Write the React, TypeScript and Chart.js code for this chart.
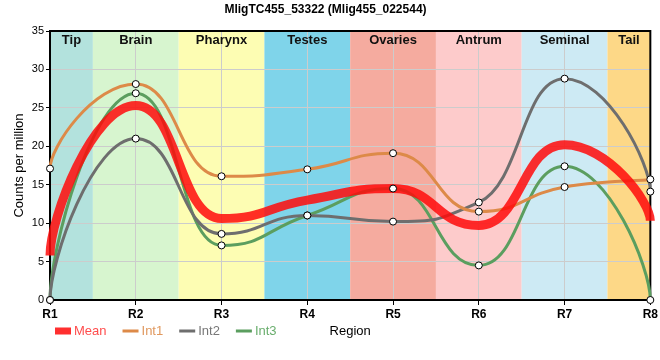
import { useEffect, useRef } from 'react';
import { Chart, registerables } from 'chart.js';

Chart.register(...registerables);

const categories = ['R1', 'R2', 'R3', 'R4', 'R5', 'R6', 'R7', 'R8'];
const regionNames = ['Tip', 'Brain', 'Pharynx', 'Testes', 'Ovaries', 'Antrum', 'Seminal', 'Tail'];
const regionColors = ['#b3e2dd', '#d7f5cf', '#fdfdb3', '#7fd4ea', '#f5ab9f', '#fdcbcb', '#cdeaf4', '#fdd887'];

const meanValues = [5.8, 25.3, 10.6, 13.0, 14.5, 9.7, 20.2, 10.3];
const int1Values = [17.1, 28.1, 16.1, 17.0, 19.1, 11.5, 14.7, 15.7];
const int2Values = [0, 21.0, 8.6, 11.0, 10.2, 12.7, 28.8, 14.1];
const int3Values = [0, 26.9, 7.1, 11.0, 14.5, 4.5, 17.4, 0];

const yMin = 0;
const yMax = 35;
const yStep = 5;

const titleText = 'MligTC455_53322 (Mlig455_022544)';
const yTitle = 'Counts per million';
const xTitle = 'Region';

const FONT = '"Liberation Sans", Arial, sans-serif';

const seriesStyle = [
  { label: 'Mean', data: meanValues, color: 'rgba(255,10,10,0.85)', text: '#ff4d4d', width: 9, box: true },
  { label: 'Int1', data: int1Values, color: '#dd8a48', text: '#e0985e', width: 3, box: false },
  { label: 'Int2', data: int2Values, color: '#6e6e6e', text: '#777777', width: 3, box: false },
  { label: 'Int3', data: int3Values, color: '#5b9e5f', text: '#6aae6e', width: 3, box: false },
];

// Extremum-preserving smoothing applied to the control points of Chart.js' own point elements
function applySpline(meta: any) {
  const line = meta.dataset;
  const pts = meta.data;
  if (!line || !pts || pts.length < 2) return;
  const n = pts.length;
  const sm = 1;
  const endK = 0.25;
  for (let i = 0; i < n; i++) {
    const p = pts[i];
    if (i === 0) {
      const r = pts[1];
      p.cp1x = p.x; p.cp1y = p.y;
      p.cp2x = p.x; p.cp2y = p.y + endK * (r.y - p.y);
      continue;
    }
    if (i === n - 1) {
      const l = pts[n - 2];
      p.cp1x = p.x; p.cp1y = p.y + endK * (l.y - p.y);
      p.cp2x = p.x; p.cp2y = p.y;
      continue;
    }
    const l = pts[i - 1];
    const r = pts[i + 1];
    const lx = (sm * p.x + l.x) / (sm + 1);
    let ly = (sm * p.y + l.y) / (sm + 1);
    const rx = (sm * p.x + r.x) / (sm + 1);
    let ry = (sm * p.y + r.y) / (sm + 1);
    if (rx !== lx) {
      const corr = ((ry - ly) * (rx - p.x)) / (rx - lx) + p.y - ry;
      ly += corr;
      ry += corr;
    }
    if (ly > l.y && ly > p.y) { ly = Math.max(l.y, p.y); ry = 2 * p.y - ly; }
    else if (ly < l.y && ly < p.y) { ly = Math.min(l.y, p.y); ry = 2 * p.y - ly; }
    if (ry > r.y && ry > p.y) { ry = Math.max(r.y, p.y); ly = 2 * p.y - ry; }
    else if (ry < r.y && ry < p.y) { ry = Math.min(r.y, p.y); ly = 2 * p.y - ry; }
    p.cp1x = lx; p.cp1y = ly; p.cp2x = rx; p.cp2y = ry;
  }
  line._pointsUpdated = true;
  line._path = undefined;
}

const splinePlugin = {
  id: 'spline',
  beforeDatasetDraw(_chart: any, args: any) {
    const meta = args.meta;
    if (meta.index >= seriesStyle.length) return;
    applySpline(meta);
  },
};

const bandsPlugin = {
  id: 'bands',
  beforeDraw(chart: any) {
    const { ctx, chartArea } = chart;
    const x = chart.scales.x;
    ctx.save();
    regionNames.forEach((_, i) => {
      const a = x.getPixelForValue(Math.max(0, i - 0.5));
      const b = x.getPixelForValue(Math.min(categories.length - 1, i + 0.5));
      ctx.fillStyle = regionColors[i];
      ctx.fillRect(a, chartArea.top, b - a, chartArea.bottom - chartArea.top);
    });
    ctx.restore();
  },
  beforeDatasetsDraw(chart: any) {
    const { ctx, chartArea } = chart;
    const x = chart.scales.x;
    ctx.save();
    ctx.font = `bold 13px ${FONT}`;
    ctx.fillStyle = '#111';
    ctx.textAlign = 'center';
    ctx.textBaseline = 'middle';
    regionNames.forEach((name, i) => {
      const a = x.getPixelForValue(Math.max(0, i - 0.5));
      const b = x.getPixelForValue(Math.min(categories.length - 1, i + 0.5));
      ctx.fillText(name, (a + b) / 2, chartArea.top + 9);
    });
    ctx.strokeStyle = '#000';
    ctx.lineWidth = 2;
    ctx.beginPath();
    ctx.moveTo(chartArea.left, chartArea.top);
    ctx.lineTo(chartArea.right, chartArea.top);
    ctx.lineTo(chartArea.right, chartArea.bottom);
    ctx.stroke();
    ctx.restore();
  },
};

const legendPlugin = {
  id: 'customLegend',
  afterDraw(chart: any) {
    const { ctx, chartArea } = chart;
    ctx.save();
    ctx.font = `13px ${FONT}`;
    ctx.textBaseline = 'middle';
    ctx.textAlign = 'left';
    const y = 331;
    let x = 55;
    seriesStyle.forEach((s) => {
      ctx.fillStyle = s.color;
      if (s.box) ctx.fillRect(x, y - 3.5, 16, 7);
      else ctx.fillRect(x, y - 1.5, 16, 3);
      ctx.fillStyle = s.text;
      ctx.fillText(s.label, x + 19, y);
      x += 19 + ctx.measureText(s.label).width + 16;
    });
    ctx.fillStyle = '#000';
    ctx.textAlign = 'center';
    ctx.fillText(xTitle, (chartArea.left + chartArea.right) / 2, y);
    ctx.restore();
  },
};

export default function App() {
  const ref = useRef<HTMLCanvasElement>(null);

  useEffect(() => {
    if (!ref.current) return;
    const lineSets = seriesStyle.map((s) => ({
      label: s.label,
      data: s.data,
      borderColor: s.color,
      backgroundColor: s.color,
      borderWidth: s.width,
      pointRadius: 0,
      pointHoverRadius: 0,
      tension: 0.4,
      fill: false,
      clip: false as any,
      order: 0,
    }));
    const pointSets = seriesStyle
      .filter((s) => !s.box)
      .map((s) => ({
        label: s.label + ' points',
        data: s.data,
        showLine: false,
        pointRadius: 3.5,
        pointBorderWidth: 1,
        pointBackgroundColor: '#ffffff',
        pointBorderColor: '#000000',
        borderColor: '#000000',
        clip: false as any,
        order: -1,
      }));

    const chart = new Chart(ref.current, {
      type: 'line',
      data: { labels: categories, datasets: [...lineSets, ...pointSets] as any },
      options: {
        responsive: false,
        animation: false,
        layout: { padding: { top: 0, right: 9, left: 0, bottom: 0 } },
        plugins: {
          legend: { display: false },
          tooltip: { enabled: false },
          title: {
            display: true,
            text: titleText,
            color: '#000',
            font: { family: FONT, size: 12, weight: 'bold' },
            padding: { top: 2, bottom: 14.6 },
          },
        },
        scales: {
          x: {
            type: 'category',
            offset: false,
            grid: { color: '#cccccc', tickLength: 5, tickColor: '#000' },
            border: { color: '#000', width: 2 },
            ticks: {
              color: '#000',
              font: { family: FONT, size: 12, weight: 'bold' },
              padding: 2,
              maxRotation: 0,
              autoSkip: false,
            },
            afterFit: (s: any) => {
              s.height = 60;
            },
          },
          y: {
            min: yMin,
            max: yMax,
            grid: { color: '#cccccc', tickLength: 4, tickColor: '#000' },
            border: { color: '#000', width: 2 },
            ticks: {
              stepSize: yStep,
              color: '#000',
              font: { family: FONT, size: 11 },
              padding: 2,
            },
            title: {
              display: true,
              text: yTitle,
              color: '#000',
              font: { family: FONT, size: 13 },
              padding: { top: 12, bottom: 0 },
            },
            afterFit: (s: any) => {
              s.width = 50;
            },
          },
        },
      },
      plugins: [splinePlugin, bandsPlugin, legendPlugin],
    });
    return () => chart.destroy();
  }, []);

  return (
    <div style={{ position: 'absolute', left: 0, top: 0, width: 660, height: 360 }}>
      <canvas ref={ref} width={660} height={360} style={{ display: 'block' }} />
    </div>
  );
}
